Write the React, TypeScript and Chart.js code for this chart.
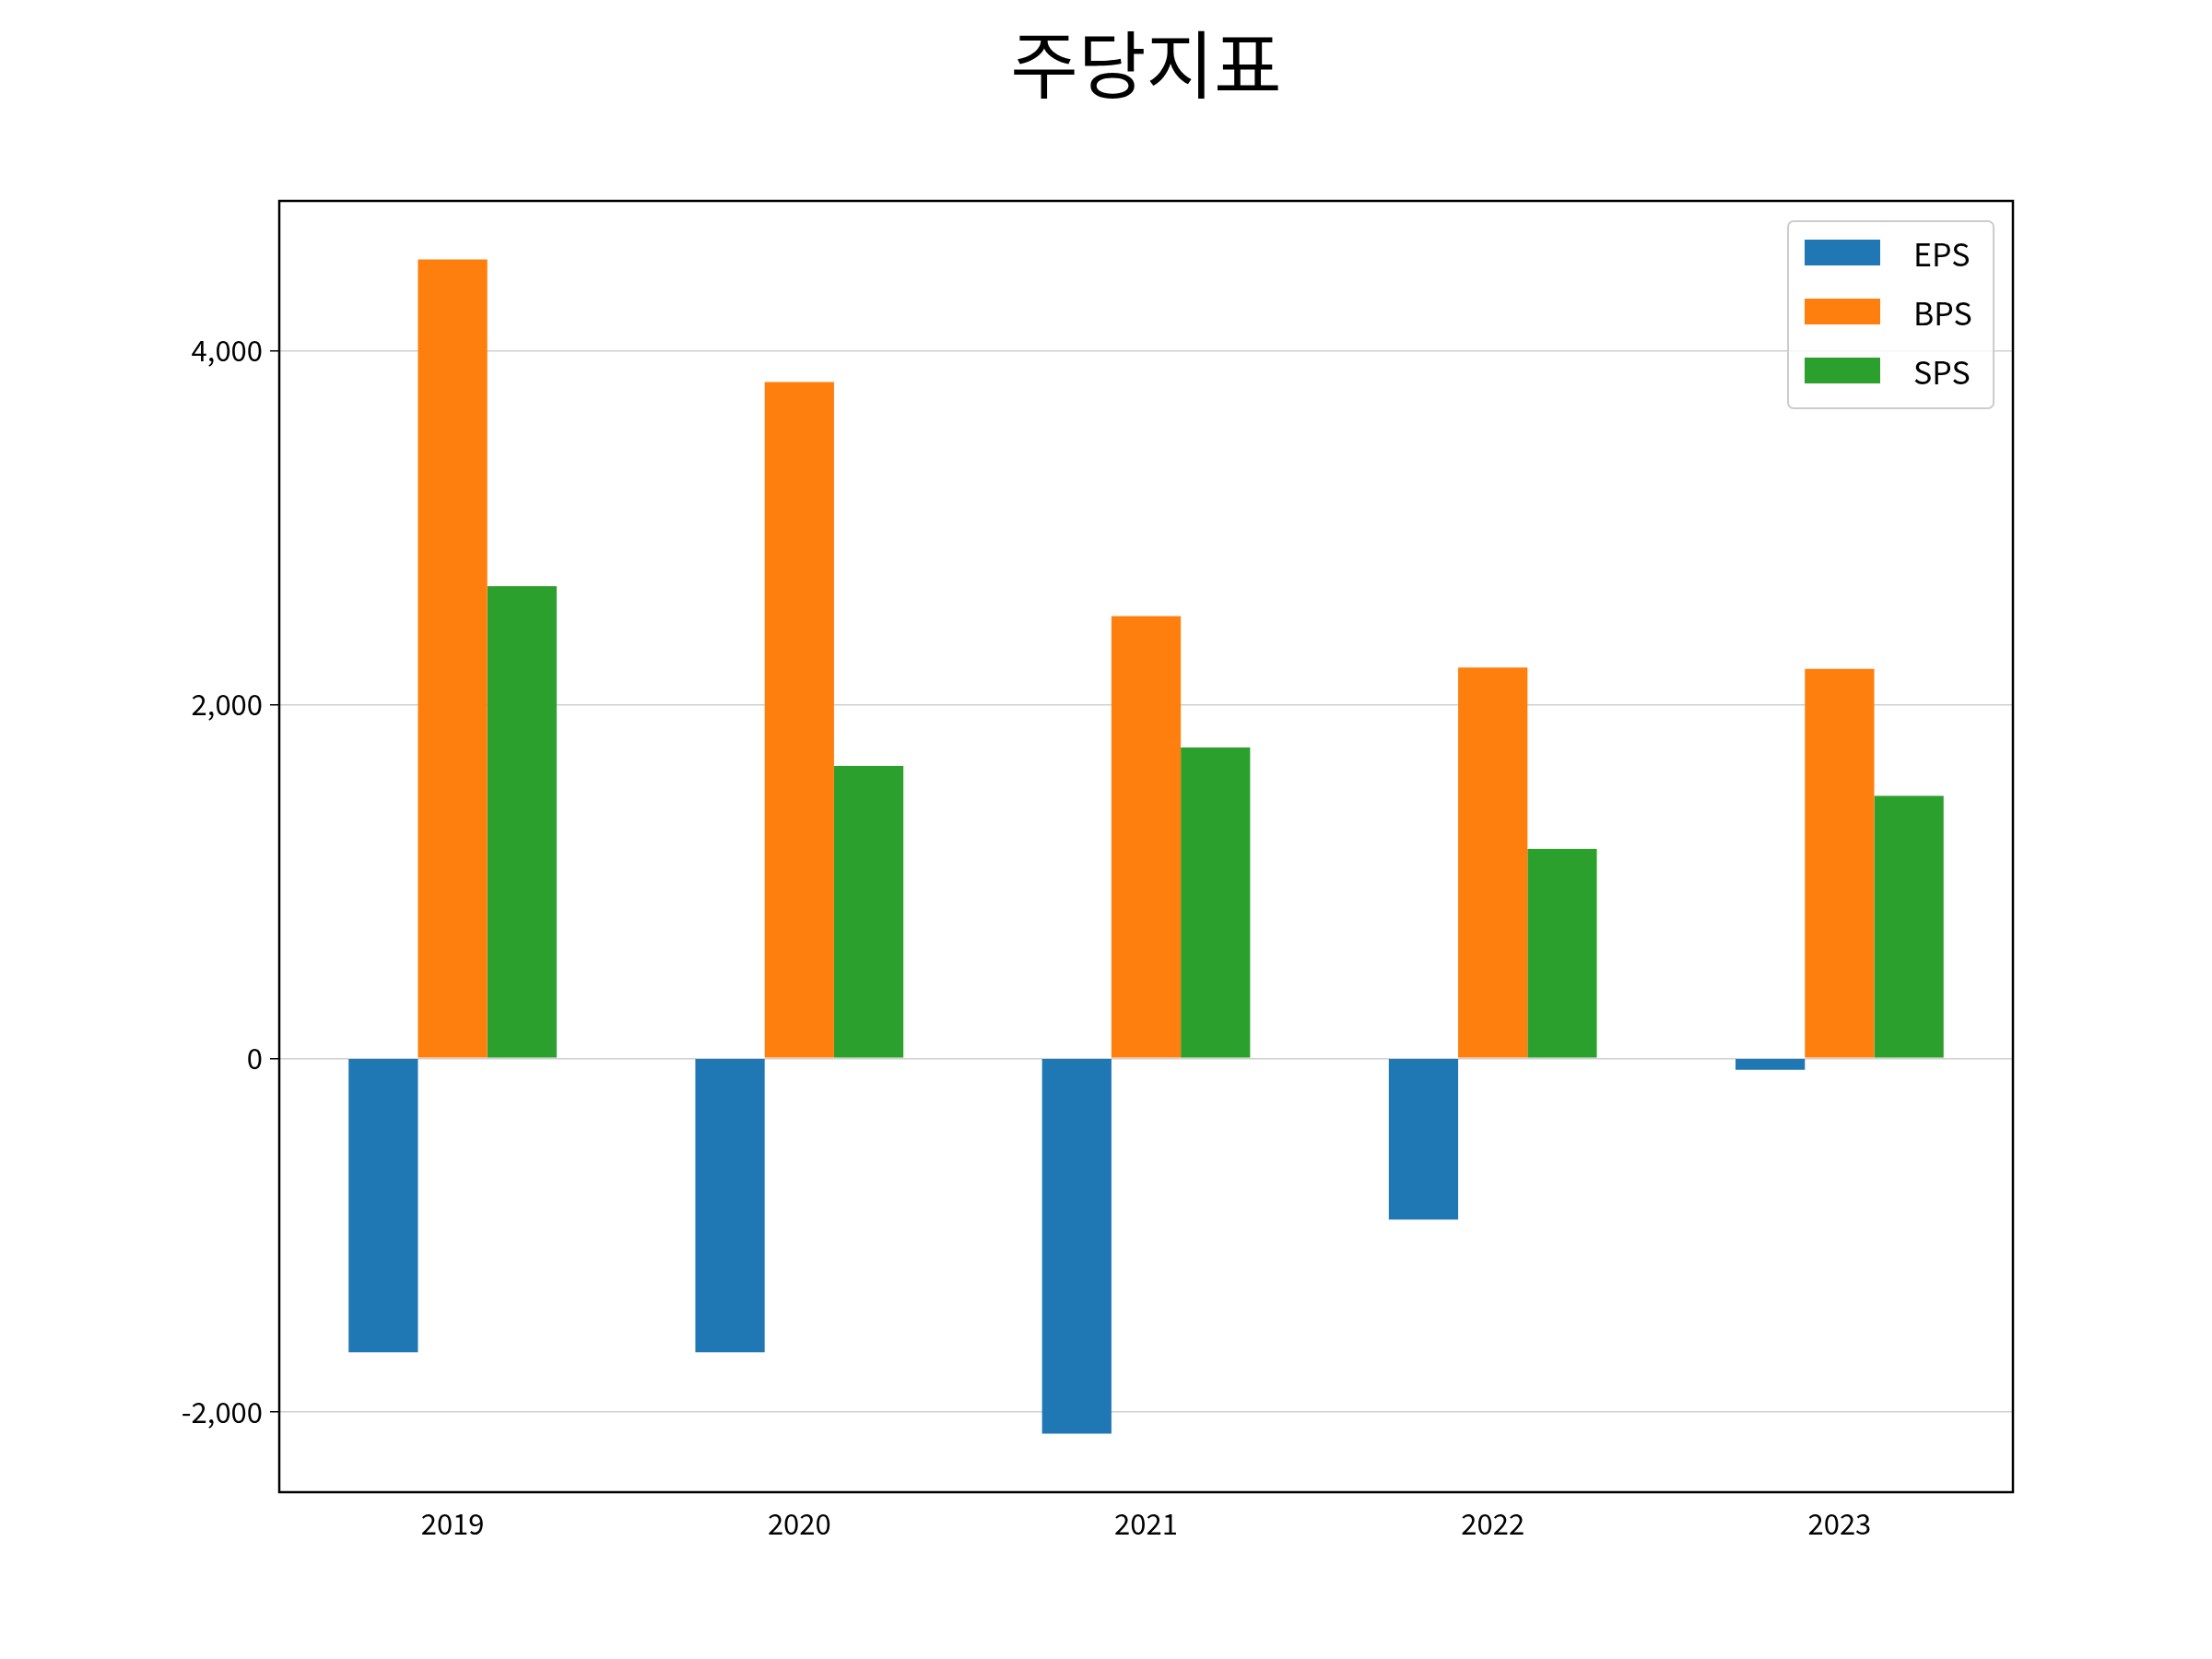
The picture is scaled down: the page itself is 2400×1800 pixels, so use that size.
import React, { useEffect, useRef } from "react";
import { Chart, registerables } from "chart.js";
Chart.register(...registerables);

const categories = ["2019", "2020", "2021", "2022", "2023"];
const eps = [-1661, -1661, -2121, -911, -65];
const bps = [4516, 3823, 2500, 2210, 2202];
const sps = [2669, 1653, 1758, 1185, 1484];
const seriesNames = ["EPS", "BPS", "SPS"];
const colors = ["#1f77b4", "#ff7f0e", "#2ca02c"];
const FONT = "'Noto Sans CJK KR', 'Noto Sans', sans-serif";

export default function App() {
  const ref = useRef<HTMLCanvasElement>(null);
  useEffect(() => {
    const deco = {
      id: "deco",
      afterDraw(c: any) {
        const ctx = c.ctx;
        const a = c.chartArea;
        ctx.save();
        ctx.strokeStyle = "#000";
        ctx.lineWidth = 2.5;
        ctx.strokeRect(a.left, a.top, a.right - a.left, a.bottom - a.top);
        ctx.fillStyle = "#000";
        ctx.font = `80px ${FONT}`;
        ctx.textAlign = "center";
        ctx.textBaseline = "middle";
        ctx.fillText("주당지표", (a.left + a.right) / 2, 70);
        // legend
        const lx = 1940, ly = 240, lw = 223, lh = 203;
        ctx.fillStyle = "rgba(255,255,255,0.8)";
        ctx.strokeStyle = "#cccccc";
        ctx.lineWidth = 2;
        ctx.beginPath();
        (ctx as any).roundRect(lx, ly, lw, lh, 6);
        ctx.fill();
        ctx.stroke();
        ctx.font = `34px ${FONT}`;
        ctx.textAlign = "left";
        seriesNames.forEach((n, i) => {
          const y = 274 + i * 64;
          ctx.fillStyle = colors[i];
          ctx.fillRect(1958, y - 14, 82, 28);
          ctx.fillStyle = "#000";
          ctx.fillText(n, 2076, y + 2);
        });
        ctx.restore();
      },
    };
    const ch = new Chart(ref.current!, {
      type: "bar",
      data: {
        labels: categories,
        datasets: [eps, bps, sps].map((d, i) => ({
          label: seriesNames[i],
          data: d,
          backgroundColor: colors[i],
          categoryPercentage: 0.6,
          barPercentage: 1,
        })),
      },
      options: {
        animation: false,
        responsive: false,
        devicePixelRatio: 1,
        layout: { padding: { top: 218, right: 216, left: 0, bottom: 0 } },
        plugins: { legend: { display: false }, title: { display: false }, tooltip: { enabled: false } },
        scales: {
          x: {
            grid: { display: false, drawTicks: true },
            border: { display: false },
            ticks: { color: "#000", font: { size: 31, family: FONT }, padding: 8 },
            afterFit: (s: any) => { s.height = 181; },
          },
          y: {
            min: -2452,
            max: 4847,
            grid: { color: "#d0d0d0", lineWidth: 1.5, tickLength: 10, tickColor: "#000" } as any,
            border: { display: false },
            ticks: {
              stepSize: 2000,
              color: "#000",
              font: { size: 31, family: FONT },
              padding: 8,
              callback: (v: any) => (v % 2000 === 0 ? Number(v).toLocaleString("en-US") : null),
            },
            afterBuildTicks: (s: any) => { s.ticks = [-2000, 0, 2000, 4000].map((v) => ({ value: v })); },
            afterFit: (s: any) => { s.width = 303; },
          },
        },
      },
      plugins: [deco],
    });
    return () => ch.destroy();
  }, []);
  return (
    <div style={{ position: "absolute", left: 0, top: 0, width: 2400, height: 1800, background: "#fff" }}>
      <canvas ref={ref} width={2400} height={1800} />
    </div>
  );
}
